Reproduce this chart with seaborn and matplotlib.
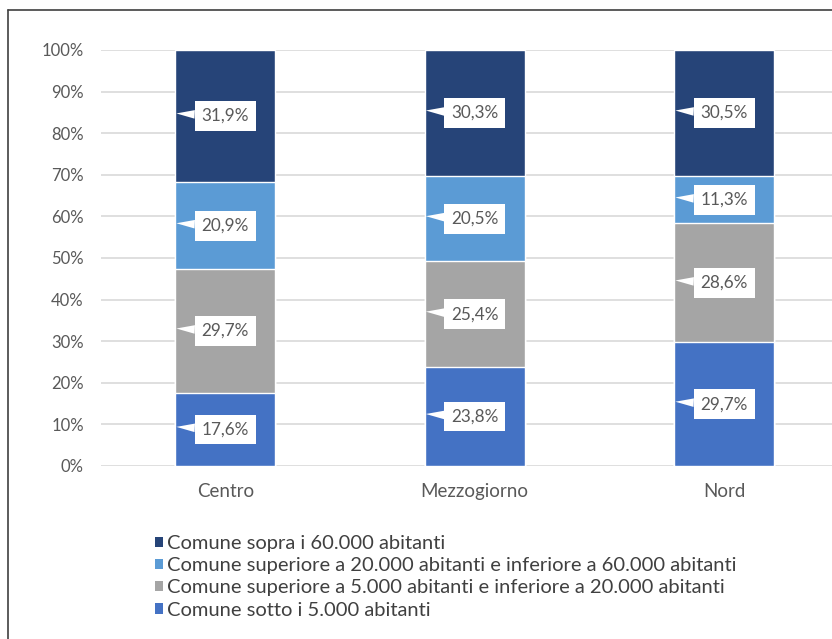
import matplotlib
matplotlib.use("Agg")
import matplotlib.pyplot as plt
import seaborn as sns
import pandas as pd
import numpy as np
from matplotlib.patches import Patch
from matplotlib.lines import Line2D

sns.set_theme(style="white")
plt.rcParams['font.family'] = ['Lato', 'DejaVu Sans']

regions = ["Centro", "Mezzogiorno", "Nord"]
series_names = [
    "Comune sotto i 5.000 abitanti",
    "Comune superiore a 5.000 abitanti e inferiore a 20.000 abitanti",
    "Comune superiore a 20.000 abitanti e inferiore a 60.000 abitanti",
    "Comune sopra i 60.000 abitanti",
]
sotto_5k = [17.6, 23.8, 29.7]
tra_5k_20k = [29.7, 25.4, 28.6]
tra_20k_60k = [20.9, 20.5, 11.3]
sopra_60k = [31.9, 30.3, 30.5]
series_values = [sotto_5k, tra_5k_20k, tra_20k_60k, sopra_60k]
colors = ["#4472C4", "#A5A5A5", "#5B9BD5", "#264478"]
ytick_labels = ["0%", "10%", "20%", "30%", "40%", "50%", "60%", "70%", "80%", "90%", "100%"]

W, H = 832, 639
fig = plt.figure(figsize=(W / 100, H / 100), dpi=100)
ax = fig.add_axes([100.5 / W, (H - 466) / H, 748.5 / W, 416 / H])

vals = np.array(series_values)
cum = np.cumsum(vals, axis=0)

# draw from top cumulative down so lower layers overlay
for i in range(len(series_names) - 1, -1, -1):
    df = pd.DataFrame({"regione": regions, "valore": cum[i]})
    sns.barplot(data=df, x="regione", y="valore", color=colors[i], width=0.4,
                saturation=1, ax=ax, zorder=2, order=regions)

ax.set_xlim(-0.5, 2.5)
ax.set_ylim(0, 100)
ax.set_yticks(np.arange(0, 101, 10))
ax.set_yticklabels(ytick_labels)
ax.yaxis.grid(True, color="#D9D9D9", linewidth=1.2, zorder=0)
ax.set_axisbelow(True)
for s in ax.spines.values():
    s.set_visible(False)
ax.set_xlabel("")
ax.set_ylabel("")
ax.tick_params(axis="y", labelsize=12, labelcolor="#595959", length=0, pad=12)
ax.tick_params(axis="x", labelsize=13.5, labelcolor="#595959", length=0, pad=12)

# data labels with callout
for i in range(len(series_names)):
    for j in range(len(regions)):
        v = vals[i, j]
        mid = cum[i, j] - v / 2
        ax.annotate(f"{v:.1f}%".replace(".", ","),
                    xy=(j - 0.196, mid + 0.6), xytext=(j, mid),
                    ha="center", va="center", fontsize=12.3, color="#595959",
                    bbox=dict(boxstyle="square,pad=0.4", fc="white", ec="none"),
                    arrowprops=dict(arrowstyle="wedge,tail_width=0.5,shrink_factor=0.5",
                                    fc="white", ec="none", shrinkA=0, shrinkB=0),
                    zorder=5)

handles = [Patch(facecolor=colors[i], edgecolor="none") for i in range(3, -1, -1)]
labels = [series_names[i] for i in range(3, -1, -1)]
fig.legend(handles, labels, loc="upper left", bbox_to_anchor=(155 / W, 1 - 535 / H),
           frameon=False, fontsize=14.5, handlelength=0.42, handleheight=0.42,
           handletextpad=0.18, labelspacing=0.26, labelcolor="#404040",
           borderaxespad=0, borderpad=0)

# outer frame
fig.add_artist(Line2D([8 / W, 8 / W], [0, 1 - 10 / H], transform=fig.transFigure,
                      color="#404040", lw=1.2))
fig.add_artist(Line2D([8 / W, 1], [1 - 10 / H, 1 - 10 / H], transform=fig.transFigure,
                      color="#404040", lw=1.2))

fig.savefig("out.png", dpi=100)
